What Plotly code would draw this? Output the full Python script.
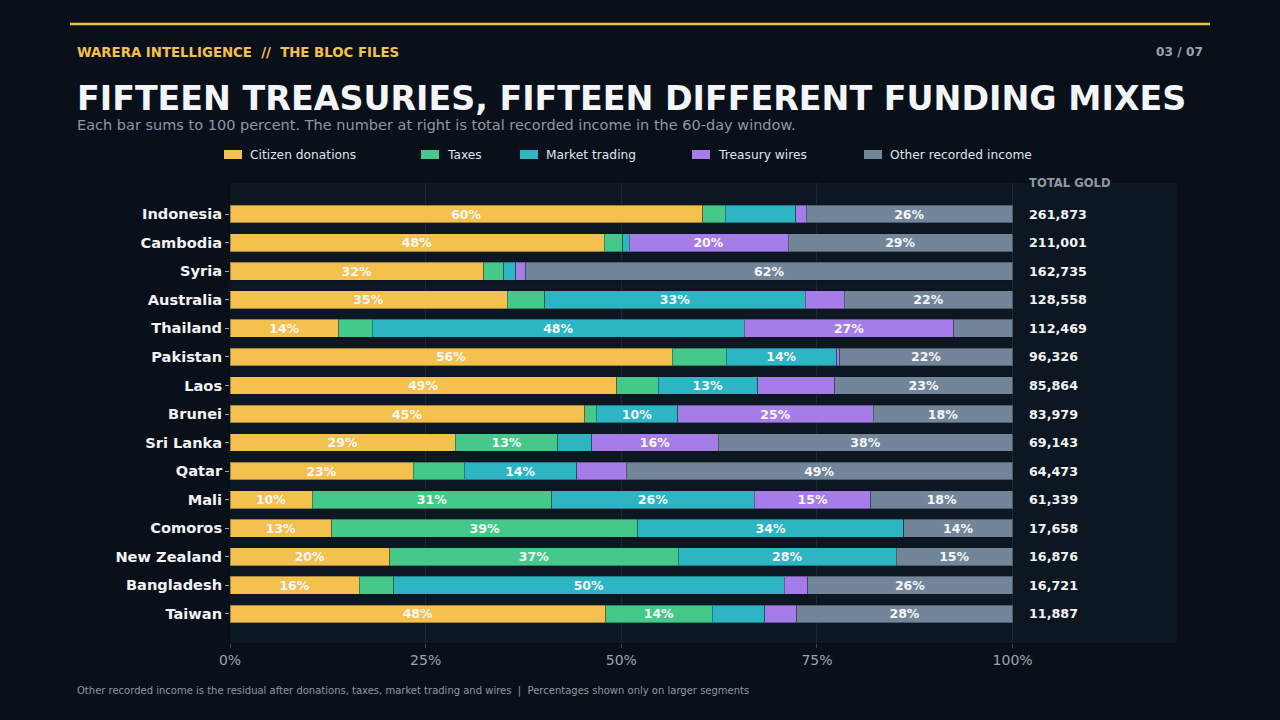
import plotly.graph_objects as go

# shares of recorded income, percent
countries = ["Indonesia", "Cambodia", "Syria", "Australia", "Thailand", "Pakistan", "Laos",
             "Brunei", "Sri Lanka", "Qatar", "Mali", "Comoros", "New Zealand", "Bangladesh", "Taiwan"]
donations = [60.4, 47.8, 32.4, 35.4, 13.9, 56.5, 49.4, 45.3, 28.8, 23.4, 10.5, 13.0, 20.4, 16.5, 48.0]
taxes = [2.9, 2.4, 2.6, 4.8, 4.3, 6.9, 5.3, 1.5, 13.1, 6.5, 30.6, 39.1, 36.9, 4.4, 13.6]
market = [9.0, 0.8, 1.5, 33.3, 47.5, 14.1, 12.7, 10.4, 4.3, 14.4, 25.9, 34.0, 27.8, 49.9, 6.7]
wires = [1.3, 20.3, 1.3, 5.0, 26.8, 0.4, 9.9, 25.0, 16.2, 6.3, 14.9, 0.0, 0.0, 3.0, 4.1]
other = [26.4, 28.7, 62.2, 21.5, 7.5, 22.1, 22.7, 17.8, 37.6, 49.4, 18.1, 13.9, 14.9, 26.2, 27.6]
totals = [261873, 211001, 162735, 128558, 112469, 96326, 85864, 83979, 69143, 64473,
          61339, 17658, 16876, 16721, 11887]

series = [
    ("Citizen donations", donations, "#f4c04e"),
    ("Taxes", taxes, "#45c98a"),
    ("Market trading", market, "#2db5c4"),
    ("Treasury wires", wires, "#a67de8"),
    ("Other recorded income", other, "#738699"),
]

BG = "#0a1019"
PLOT_BG = "#0d1721"
MUTED = "#8b98a5"
GOLD = "#f4c04e"
FONT = "DejaVu Sans"

# plot area in pixels, used to place the header/footer texts
L, R, T, B = 230, 1177, 183, 643


def px(x):
    return (x - L) / (R - L)


def py(y):
    return (B - y) / (B - T)


fig = go.Figure()
for name, vals, color in series:
    labels = [f"{v:.0f}%" if v >= 10 else "" for v in vals]
    fig.add_trace(go.Bar(
        y=countries, x=vals, name=name, orientation="h",
        marker=dict(color=color, line=dict(color="rgba(10,15,23,0.35)", width=1)),
        width=0.62, text=labels, textposition="inside", insidetextanchor="middle",
        textangle=0, constraintext="none",
        textfont=dict(family=FONT, size=12.5, color="#f4f6f8", weight="bold"),
        showlegend=False, hoverinfo="x+y+name",
    ))

annotations = []
for c, t in zip(countries, totals):
    annotations.append(dict(x=101.85, y=c, xref="x", yref="y", text=f"{t:,}", showarrow=False,
                            xanchor="left", font=dict(family=FONT, size=12.7, color="#f1f3f5", weight="bold")))
annotations.append(dict(x=px(1027), y=py(183), xref="paper", yref="paper", text="TOTAL GOLD",
                        showarrow=False, xanchor="left", yanchor="middle",
                        font=dict(family=FONT, size=11.6, color=MUTED, weight="bold")))

# header
annotations.append(dict(x=px(75), y=py(52), xref="paper", yref="paper",
                        text="WARERA INTELLIGENCE  //  THE BLOC FILES", showarrow=False,
                        xanchor="left", yanchor="middle",
                        font=dict(family=FONT, size=13.3, color=GOLD, weight="bold")))
annotations.append(dict(x=px(1205), y=py(52), xref="paper", yref="paper", text="03 / 07",
                        showarrow=False, xanchor="right", yanchor="middle",
                        font=dict(family=FONT, size=12.2, color="#9aa5b1", weight="bold")))
annotations.append(dict(x=px(75), y=py(98), xref="paper", yref="paper",
                        text="FIFTEEN TREASURIES, FIFTEEN DIFFERENT FUNDING MIXES", showarrow=False,
                        xanchor="left", yanchor="middle",
                        font=dict(family=FONT, size=33.3, color="#f3f5f8", weight="bold")))
annotations.append(dict(x=px(75), y=py(125), xref="paper", yref="paper",
                        text="Each bar sums to 100 percent. The number at right is total recorded income in the 60-day window.",
                        showarrow=False, xanchor="left", yanchor="middle",
                        font=dict(family=FONT, size=14.5, color=MUTED)))

# legend drawn by hand so the spacing matches
shapes = [dict(type="line", xref="paper", yref="paper", x0=px(70), x1=px(1210), y0=py(24), y1=py(24),
               line=dict(color=GOLD, width=2.5))]
legend_x = [224, 421, 520, 692, 864]
for (name, vals, color), lx in zip(series, legend_x):
    shapes.append(dict(type="rect", xref="paper", yref="paper", x0=px(lx), x1=px(lx + 18),
                       y0=py(159), y1=py(150), fillcolor=color, line=dict(width=0)))
    annotations.append(dict(x=px(lx + 24), y=py(154.5), xref="paper", yref="paper", text=name,
                            showarrow=False, xanchor="left", yanchor="middle",
                            font=dict(family=FONT, size=12.25, color="#dfe5ec")))

# footer
annotations.append(dict(x=px(75), y=py(691), xref="paper", yref="paper",
                        text="Other recorded income is the residual after donations, taxes, market trading and wires  |  Percentages shown only on larger segments",
                        showarrow=False, xanchor="left", yanchor="middle",
                        font=dict(family=FONT, size=10, color=MUTED)))

fig.update_layout(
    barmode="stack", width=1280, height=720,
    paper_bgcolor=BG, plot_bgcolor=PLOT_BG,
    margin=dict(l=L, r=1280 - R, t=T, b=720 - B),
    font=dict(family=FONT, color="#e8ecf0"),
    bargap=0.38,
    annotations=annotations, shapes=shapes,
)
fig.update_xaxes(range=[0, 121], tick0=0, dtick=25, ticksuffix="%", showgrid=True,
                 gridcolor="#1c2835", gridwidth=1, zeroline=False, ticks="outside", ticklen=4,
                 tickcolor="#3a4654", tickfont=dict(family=FONT, size=14, color="#9aa5b1"),
                 showline=False)
fig.update_yaxes(range=[15.02, -1.09], showgrid=False, zeroline=False, ticks="outside",
                 ticklen=4, tickcolor="#9aa5b1", ticklabelstandoff=0,
                 tickfont=dict(family=FONT, size=14.6, color="#f1f3f5", weight="bold"))

# drop the default page margin so the figure sits at the window's corner
fig.write_html("out.html", config={"displayModeBar": False},
               post_script="document.body.style.margin='0';document.body.style.background='%s';" % BG)
